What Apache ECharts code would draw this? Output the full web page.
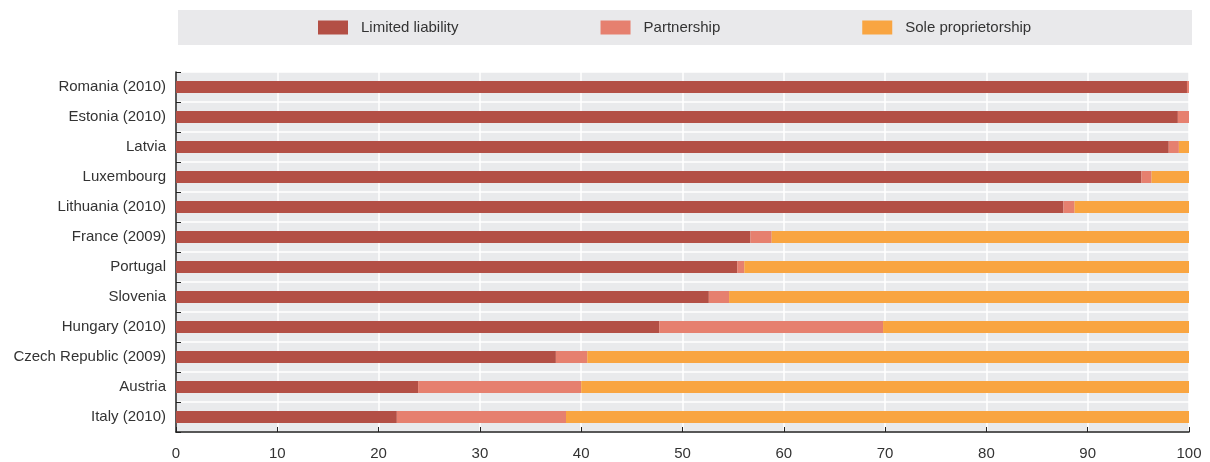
<!DOCTYPE html>
<html>
<head>
<meta charset="utf-8">
<script src="https://cdn.jsdelivr.net/npm/echarts@6/dist/echarts.min.js"></script>
<style>
html,body{margin:0;padding:0;background:#fff;}
#c{width:1210px;height:462px;}
</style>
</head>
<body>
<div id="c"></div>
<script>
var categories = ["Romania (2010)","Estonia (2010)","Latvia","Luxembourg","Lithuania (2010)","France (2009)","Portugal","Slovenia","Hungary (2010)","Czech Republic (2009)","Austria","Italy (2010)"];
var limitedLiability = [99.8, 98.9, 98.0, 95.3, 87.6, 56.7, 55.4, 52.6, 47.7, 37.5, 23.9, 21.8];
var partnership      = [0.2, 1.1, 1.0, 1.0, 1.1, 2.1, 0.7, 2.0, 22.1, 3.1, 16.1, 16.7];
var soleProprietorship = [0, 0, 1.0, 3.7, 11.3, 41.2, 43.9, 45.4, 30.2, 59.4, 60.0, 61.5];
var seriesNames = ["Limited liability","Partnership","Sole proprietorship"];
var colors = ["#b34f45","#e6806f","#f9a541"];

var FONT = "'Liberation Sans', Arial, sans-serif";
var chart = echarts.init(document.getElementById('c'), null, {renderer:'canvas'});
function mk(name, data, color){
  return {name:name, type:'bar', stack:'total', data:data, barWidth:12,
    itemStyle:{color:color}, emphasis:{disabled:true}};
}
chart.setOption({
  animation:false,
  color:colors,
  textStyle:{fontFamily:FONT},
  graphic:[{type:'rect', shape:{x:178,y:10,width:1014,height:35}, style:{fill:'#e9e9eb'}, z:-1}],
  legend:{
    left:313, top:15, itemWidth:30, itemHeight:14, itemGap:142,
    icon:'rect',
    textStyle:{fontFamily:FONT, fontSize:15, color:'#333', padding:[0,0,0,8]},
    data:seriesNames
  },
  grid:{left:176, right:21, top:72, bottom:30, show:true, backgroundColor:'#e9eaec', borderWidth:0},
  xAxis:{
    type:'value', min:0, max:100, interval:10,
    axisLine:{show:true, lineStyle:{color:'#222', width:1.5}},
    axisTick:{show:true, inside:true, length:5, lineStyle:{color:'#222', width:1}},
    axisLabel:{fontFamily:FONT, fontSize:15, color:'#333', margin:14},
    splitLine:{show:true, lineStyle:{color:'#ffffff', width:1.5}}
  },
  yAxis:{
    type:'category', data:categories, inverse:true,
    axisLine:{show:true, lineStyle:{color:'#222', width:1.5}},
    axisTick:{show:true, inside:true, length:5, lineStyle:{color:'#222', width:1}},
    axisLabel:{fontFamily:FONT, fontSize:15, color:'#333', margin:10},
    splitLine:{show:true, lineStyle:{color:'#ffffff', width:1.5}}
  },
  series:[
    mk(seriesNames[0], limitedLiability, colors[0]),
    mk(seriesNames[1], partnership, colors[1]),
    mk(seriesNames[2], soleProprietorship, colors[2])
  ]
});
</script>
</body>
</html>
